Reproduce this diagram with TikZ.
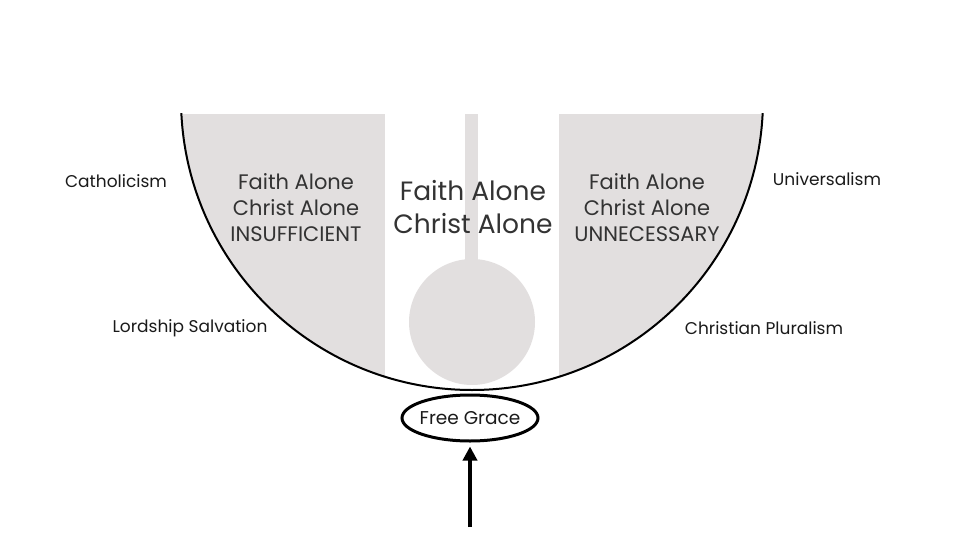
\documentclass[tikz,border=0pt]{standalone}
\usepackage{fontspec}
\setmainfont{Poppins}
\usetikzlibrary{shapes.geometric,arrows.meta}
\definecolor{bowlgray}{HTML}{E2DFDF}
\definecolor{bandtext}{HTML}{333333}
\definecolor{sidetext}{HTML}{1A1A1A}
\tikzset{
  side/.style={text=sidetext,font=\fontsize{17}{19}\selectfont,inner sep=0pt},
  band/.style={text=bandtext,font=\fontsize{21}{26}\selectfont,align=center,inner sep=0pt},
  mid/.style={text=bandtext,font=\fontsize{26.5}{33}\selectfont,align=center,inner sep=0pt},
  ring/.style={draw,ellipse,line width=3pt,minimum width=136pt,minimum height=46pt,inner sep=0pt,fill=white},
}
\begin{document}
\begin{tikzpicture}[x=1pt,y=-1pt]
\useasboundingbox (0,0) rectangle (960,540);
% gray regions
\begin{scope}
  \clip (0,114) rectangle (960,540);
  \clip (472,99) circle (291pt);
  \fill[bowlgray] (0,114) rectangle (385,540);
  \fill[bowlgray] (559,114) rectangle (960,540);
  \fill[bowlgray] (465,114) rectangle (478,280);
  \fill[bowlgray] (472,322) circle (63pt);
\end{scope}
% bowl outline
\begin{scope}
  \clip (0,114) rectangle (960,540);
  \draw[line width=2pt] (472,99) circle (291pt);
\end{scope}
% texts
\node[side] (cath) at (116,181) {Catholicism};
\node[side] (lord) at (190,328) {Lordship Salvation};
\node[side] (univ) at (827,179) {Universalism};
\node[side] (plur) at (764,328) {Christian Pluralism};
\node[band] (left) at (296,208) {Faith Alone\\Christ Alone\\INSUFFICIENT};
\node[mid] (midt) at (473,207) {Faith Alone\\Christ Alone};
\node[band] (right) at (647,208) {Faith Alone\\Christ Alone\\UNNECESSARY};
% free grace
\node[ring] (fg) at (470,418) {};
\node[side,font=\fontsize{18.5}{20}\selectfont] (fgt) at (fg.center) {Free Grace};
\coordinate (tail) at (470,527);
\draw[line width=4pt,shorten >=4pt,-{Triangle[width=14pt,length=14pt]}] (tail) -- (fg.south);
\end{tikzpicture}
\end{document}
